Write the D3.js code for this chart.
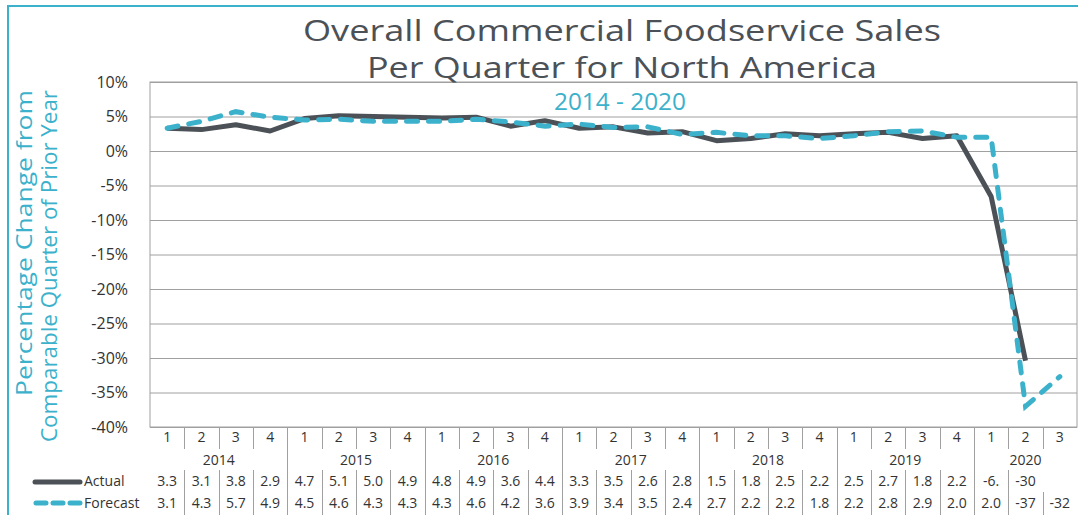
<!DOCTYPE html>
<html lang="en">
<head>
    <meta charset="UTF-8">
    <title>Overall Commercial Foodservice Sales</title>
    <script src="https://d3js.org/d3.v7.min.js"></script>
    <style>
        body { margin: 0; background: #fff; }
        text { font-family: "Open Sans", sans-serif; }
        .tick line { stroke: #a0a0a0; }
        .tick text { font-size: 16px; fill: #333; }
        .cell { font-size: 14px; fill: #333; }
    </style>
</head>
<body>
    <script>
        // data
        const years = ["2014", "2015", "2016", "2017", "2018", "2019", "2020"];
        const quarterLabels = ["1", "2", "3", "4"];
        const actual = [3.3, 3.1, 3.8, 2.9, 4.7, 5.1, 5.0, 4.9, 4.8, 4.9, 3.6, 4.4,
            3.3, 3.5, 2.6, 2.8, 1.5, 1.8, 2.5, 2.2, 2.5, 2.7, 1.8, 2.2, -6.6, -30.4];
        const forecast = [3.3, 4.3, 5.7, 4.9, 4.5, 4.6, 4.3, 4.3, 4.3, 4.6, 4.2, 3.6,
            3.9, 3.4, 3.5, 2.4, 2.7, 2.2, 2.2, 1.8, 2.2, 2.8, 2.9, 2.0, 2.0, -37, -32.7];
        const actualLabels = ["3.3", "3.1", "3.8", "2.9", "4.7", "5.1", "5.0", "4.9", "4.8", "4.9", "3.6", "4.4",
            "3.3", "3.5", "2.6", "2.8", "1.5", "1.8", "2.5", "2.2", "2.5", "2.7", "1.8", "2.2", "-6.", "-30"];
        const forecastLabels = ["3.1", "4.3", "5.7", "4.9", "4.5", "4.6", "4.3", "4.3", "4.3", "4.6", "4.2", "3.6",
            "3.9", "3.4", "3.5", "2.4", "2.7", "2.2", "2.2", "1.8", "2.2", "2.8", "2.9", "2.0", "2.0", "-37", "-32"];
        const yTicks = [10, 5, 0, -5, -10, -15, -20, -25, -30, -35, -40];

        const width = 1078, height = 515;
        const dark = "#4b5156", teal = "#3cb1cb";
        const plot = { left: 150, right: 1077, top: 82, bottom: 427 };

        // one slot per quarter, 2014 Q1 .. 2020 Q3
        const quarters = [];
        years.forEach(y => quarterLabels.forEach(q => quarters.push({ year: y, q: q })));
        quarters.length = forecast.length;
        const keys = quarters.map((d, i) => i);

        const svg = d3.select("body").append("svg")
            .attr("width", width)
            .attr("height", height);

        // outer frame
        svg.append("rect")
            .attr("x", 8).attr("y", 6)
            .attr("width", width + 10).attr("height", height + 10)
            .attr("fill", "none").attr("stroke", teal).attr("stroke-width", 2);

        const x = d3.scaleBand().domain(keys).range([plot.left, plot.right]);
        const y = d3.scaleLinear().domain([-40, 10]).range([plot.bottom, plot.top]);

        // grid + y labels
        const yAxis = svg.append("g")
            .attr("transform", `translate(${plot.left},0)`)
            .call(d3.axisLeft(y).tickValues(yTicks).tickFormat(d => d + "%")
                .tickSize(-(plot.right - plot.left)).tickPadding(22));
        yAxis.select(".domain").remove();

        svg.append("rect")
            .attr("x", plot.left).attr("y", plot.top)
            .attr("width", plot.right - plot.left).attr("height", plot.bottom - plot.top)
            .attr("fill", "none").attr("stroke", "#a0a0a0");

        // titles
        const title = svg.append("g").attr("fill", "#4b5156").attr("text-anchor", "middle").attr("font-size", 29);
        title.append("text").attr("x", 622).attr("y", 41)
            .attr("textLength", 638).attr("lengthAdjust", "spacingAndGlyphs")
            .text("Overall Commercial Foodservice Sales");
        title.append("text").attr("x", 622).attr("y", 78)
            .attr("textLength", 510).attr("lengthAdjust", "spacingAndGlyphs")
            .text("Per Quarter for North America");
        svg.append("text").attr("x", 620).attr("y", 110).attr("font-size", 23)
            .attr("fill", teal).attr("text-anchor", "middle")
            .attr("textLength", 132).attr("lengthAdjust", "spacingAndGlyphs")
            .text("2014 - 2020");

        // y axis title
        const yt = svg.append("g").attr("fill", teal).attr("font-size", 22).attr("text-anchor", "end");
        yt.append("text").attr("transform", "translate(32,90) rotate(-90)")
            .attr("textLength", 306).attr("lengthAdjust", "spacingAndGlyphs")
            .text("Percentage Change from");
        yt.append("text").attr("transform", "translate(57,90) rotate(-90)")
            .attr("textLength", 352).attr("lengthAdjust", "spacingAndGlyphs")
            .text("Comparable Quarter of Prior Year");

        // lines
        const cx = i => x(i) + x.bandwidth() / 2;
        const line = d3.line().x((d, i) => cx(i)).y(d => y(d));

        svg.append("path").datum(actual)
            .attr("d", line).attr("fill", "none")
            .attr("stroke", dark).attr("stroke-width", 5).attr("stroke-linejoin", "round");
        svg.append("path").datum(forecast)
            .attr("d", line).attr("fill", "none")
            .attr("stroke", teal).attr("stroke-width", 5).attr("stroke-linecap", "round")
            .attr("stroke-dasharray", "11,11");

        // data table
        const table = svg.append("g");
        const rowQ = 442, rowYear = 465, rowA = 486, rowF = 508;

        table.selectAll(".q").data(quarters).join("text")
            .attr("class", "cell").attr("text-anchor", "middle")
            .attr("x", (d, i) => cx(i)).attr("y", rowQ).text(d => d.q);

        years.forEach(yr => {
            const idx = keys.filter(i => quarters[i].year === yr);
            const x0 = x(idx[0]), x1 = x(idx[idx.length - 1]) + x.bandwidth();
            table.append("text").attr("class", "cell").attr("text-anchor", "middle")
                .attr("x", (x0 + x1) / 2).attr("y", rowYear).text(yr);
        });

        table.selectAll(".a").data(actualLabels).join("text")
            .attr("class", "cell").attr("text-anchor", "middle")
            .attr("x", (d, i) => cx(i)).attr("y", rowA).text(d => d);
        table.selectAll(".f").data(forecastLabels).join("text")
            .attr("class", "cell").attr("text-anchor", "middle")
            .attr("x", (d, i) => cx(i)).attr("y", rowF).text(d => d);

        // cell borders
        keys.forEach(i => {
            if (i === 0) return;
            const xe = Math.round(x(i)) + 0.5;
            if (i % 4 === 0) {
                table.append("line").attr("x1", xe).attr("x2", xe).attr("y1", plot.bottom).attr("y2", height)
                    .attr("stroke", "#a0a0a0");
            } else {
                table.append("line").attr("x1", xe).attr("x2", xe).attr("y1", plot.bottom).attr("y2", 449)
                    .attr("stroke", "#a0a0a0");
                const top = i >= actual.length ? 492 : 470;
                table.append("line").attr("x1", xe).attr("x2", xe).attr("y1", top).attr("y2", height)
                    .attr("stroke", "#a0a0a0");
            }
        });

        // legend keys
        svg.append("line").attr("x1", 35).attr("x2", 80).attr("y1", 482).attr("y2", 482)
            .attr("stroke", dark).attr("stroke-width", 5).attr("stroke-linecap", "round");
        svg.append("line").attr("x1", 36).attr("x2", 80).attr("y1", 503).attr("y2", 503)
            .attr("stroke", teal).attr("stroke-width", 5).attr("stroke-linecap", "round")
            .attr("stroke-dasharray", "10,7");
        svg.append("text").attr("class", "cell").attr("x", 84).attr("y", rowA).text("Actual");
        svg.append("text").attr("class", "cell").attr("x", 84).attr("y", rowF).text("Forecast");
    </script>
</body>
</html>
